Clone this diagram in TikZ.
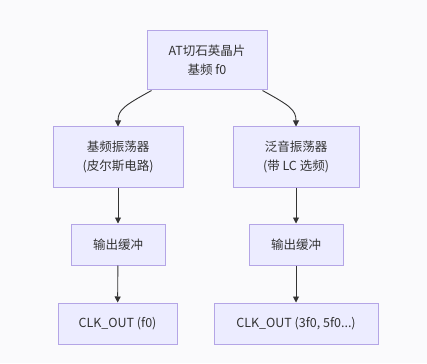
\documentclass[tikz,border=0pt]{standalone}
\usepackage{fontspec}
\setmainfont{Noto Sans CJK SC}
\usetikzlibrary{arrows.meta}
\definecolor{bg}{RGB}{250,250,252}
\definecolor{boxfill}{RGB}{236,236,255}
\definecolor{boxline}{RGB}{180,165,230}
\definecolor{edge}{RGB}{51,51,51}
\tikzset{
  box/.style={draw=boxline, fill=boxfill, line width=1pt, inner sep=0pt, align=center,
    font=\fontsize{12.5}{19}\selectfont, text=black!80},
  conn/.style={draw=edge, line width=0.9pt, -{Triangle[length=6pt,width=6pt]}}
}
\begin{document}
\begin{tikzpicture}[x=1pt,y=-1pt]
\fill[bg] (0,0) rectangle (427,363);
\useasboundingbox (0,0) rectangle (427,363);
\node[box, minimum width=120pt, minimum height=59pt] (top) at (207,60.5) {AT切石英晶片\\基频 f0};
\node[box, minimum width=130pt, minimum height=60pt] (oscL) at (118,157) {基频振荡器\\(皮尔斯电路)};
\node[box, minimum width=126pt, minimum height=60pt] (oscR) at (296,157) {泛音振荡器\\(带 LC 选频)};
\node[box, minimum width=94pt, minimum height=41pt] (bufL) at (118,244.5) {输出缓冲};
\node[box, minimum width=94pt, minimum height=41pt] (bufR) at (296,244.5) {输出缓冲};
\node[box, minimum width=119pt, minimum height=41pt] (clkL) at (117.5,323.5) {CLK\_OUT (f0)};
\node[box, minimum width=164pt, minimum height=41pt] (clkR) at (296,323.5) {CLK\_OUT (3f0, 5f0...)};
\draw[conn] ([xshift=5pt]top.south west) .. controls +(-27,15) and +(0,-17) .. (oscL.north);
\draw[conn] ([xshift=-5pt]top.south east) .. controls +(27,15) and +(0,-17) .. (oscR.north);
\draw[conn] (oscL) -- (bufL);
\draw[conn] (oscR) -- (bufR);
\draw[conn] (bufL) -- (clkL);
\draw[conn] (bufR) -- (clkR);
\end{tikzpicture}
\end{document}
